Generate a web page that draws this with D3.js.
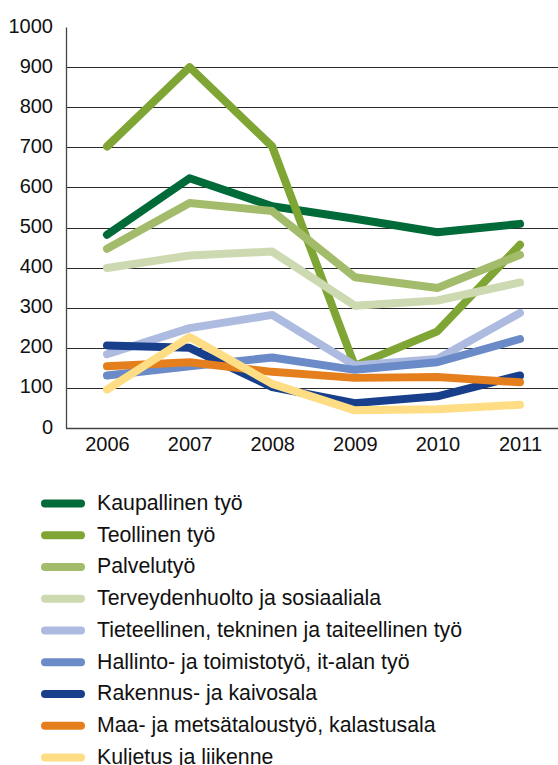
<!DOCTYPE html>
<html>
<head>
<meta charset="utf-8">
<script src="https://cdn.jsdelivr.net/npm/d3@7"></script>
<style>
  body { margin: 0; background: #fff; }
  svg { display: block; font-family: "Liberation Sans", Arial, sans-serif; }
</style>
</head>
<body>
<div id="chart"></div>
<script>
// years on the x axis
var years = ["2006", "2007", "2008", "2009", "2010", "2011"];
var yTicks = [0, 100, 200, 300, 400, 500, 600, 700, 800, 900, 1000];

// series, in legend order
var seriesNames = [
  "Kaupallinen työ",
  "Teollinen työ",
  "Palvelutyö",
  "Terveydenhuolto ja sosiaaliala",
  "Tieteellinen, tekninen ja taiteellinen työ",
  "Hallinto- ja toimistotyö, it-alan työ",
  "Rakennus- ja kaivosala",
  "Maa- ja metsätaloustyö, kalastusala",
  "Kuljetus ja liikenne"
];
var seriesColors = ["#006a38", "#7fa535", "#a3bc6b", "#cdd9b0", "#adbbe1", "#6a8bc7", "#173f8c", "#e57f1e", "#fedd85"];

var kaupallinen = [482, 623, 553, 522, 488, 509];
var teollinen = [702, 900, 702, 155, 241, 457];
var palvelu = [447, 561, 541, 376, 349, 432];
var terveys = [399, 430, 440, 305, 318, 363];
var tieteellinen = [184, 249, 282, 156, 172, 287];
var hallinto = [131, 154, 176, 145, 164, 222];
var rakennus = [206, 200, 102, 62, 79, 131];
var maa = [154, 164, 140, 125, 127, 114];
var kuljetus = [96, 227, 110, 44, 47, 58];

var seriesValues = [kaupallinen, teollinen, palvelu, terveys, tieteellinen, hallinto, rakennus, maa, kuljetus];

var width = 558, height = 765;

var svg = d3.select("#chart").append("svg")
    .attr("width", width)
    .attr("height", height);

// scales
var x = d3.scalePoint().domain(years).range([107, 520]);
var y = d3.scaleLinear().domain([0, 1000]).range([428, 27]);
var axisLeft = 66;

// gridlines (none at the top value)
svg.append("g")
  .selectAll("line")
  .data(yTicks.filter(function(d) { return d > 0 && d < 1000; }))
  .enter().append("line")
    .attr("x1", axisLeft)
    .attr("x2", width)
    .attr("y1", function(d) { return Math.round(y(d)) + 0.5; })
    .attr("y2", function(d) { return Math.round(y(d)) + 0.5; })
    .attr("stroke", "#2b2b2b")
    .attr("stroke-width", 1.2);

// y axis
var yAxis = svg.append("g")
    .attr("transform", "translate(" + axisLeft + ",0)")
    .call(d3.axisLeft(y).tickValues(yTicks).tickFormat(d3.format("d")).tickSize(0).tickPadding(13));
yAxis.select(".domain").attr("stroke", "#444").attr("stroke-width", 1.3);
yAxis.selectAll("text")
    .attr("font-size", 20)
    .attr("fill", "#111")
    .attr("dy", "0.25em")
    .style("font-family", "Liberation Sans, Arial, sans-serif");

// x axis
var xAxis = svg.append("g")
    .attr("transform", "translate(0," + (y(0) + 0.5) + ")")
    .call(d3.axisBottom(x).tickSize(0).tickPadding(8));
xAxis.select(".domain").remove();
svg.append("line")
    .attr("x1", axisLeft).attr("x2", width)
    .attr("y1", y(0) + 0.5).attr("y2", y(0) + 0.5)
    .attr("stroke", "#444").attr("stroke-width", 1.3);
xAxis.selectAll("text")
    .attr("font-size", 20)
    .attr("fill", "#111")
    .style("font-family", "Liberation Sans, Arial, sans-serif");

// lines
var line = d3.line()
    .x(function(d, i) { return x(years[i]); })
    .y(function(d) { return y(d); });

svg.append("g")
  .selectAll("path")
  .data(seriesValues)
  .enter().append("path")
    .attr("d", line)
    .attr("fill", "none")
    .attr("stroke", function(d, i) { return seriesColors[i]; })
    .attr("stroke-width", 8)
    .attr("stroke-linecap", "round")
    .attr("stroke-linejoin", "round");

// legend
var legend = svg.append("g")
  .selectAll("g")
  .data(seriesNames)
  .enter().append("g")
    .attr("transform", function(d, i) { return "translate(0," + (503.5 + i * 31.75) + ")"; });

legend.append("line")
    .attr("x1", 45).attr("x2", 81)
    .attr("stroke", function(d, i) { return seriesColors[i]; })
    .attr("stroke-width", 8)
    .attr("stroke-linecap", "round");

legend.append("text")
    .attr("x", 97)
    .attr("dy", "0.3em")
    .attr("font-size", 21.3)
    .attr("fill", "#111")
    .text(function(d) { return d; });
</script>
</body>
</html>
